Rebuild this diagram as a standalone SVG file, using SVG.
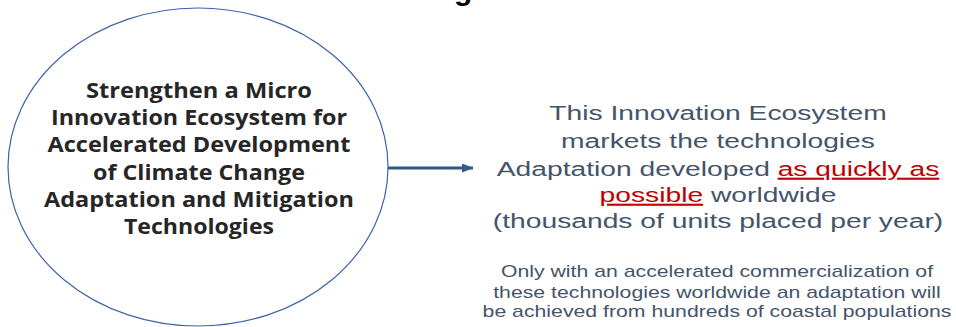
<svg xmlns="http://www.w3.org/2000/svg" width="956" height="327" viewBox="0 0 956 327">
  <style>
    .circ { font-family: "Open Sans", "Liberation Sans", sans-serif; font-weight: bold; font-size: 21px; fill: #262626; text-anchor: middle; }
    .big { font-family: "Liberation Sans", Arial, sans-serif; font-size: 21px; fill: #44546A; text-anchor: middle; }
    .small { font-family: "Liberation Sans", Arial, sans-serif; font-size: 15.8px; fill: #44546A; text-anchor: middle; }
    .red { fill: #C00000; text-decoration: underline; }
  </style>
  <defs>
    <marker id="arrow" markerWidth="12" markerHeight="10" refX="11" refY="4.5" orient="auto" markerUnits="userSpaceOnUse">
      <polygon points="0,0 11.5,4.5 0,9" fill="#2E5A88"/>
    </marker>
  </defs>
  <rect width="956" height="327" fill="#ffffff"/>
  <text x="454" y="0" font-family="Liberation Sans, Arial, sans-serif" font-weight="bold" font-size="30" fill="#000">g</text>

  <g id="connectors">
    <line x1="388" y1="168" x2="473" y2="168" stroke="#2E5A88" stroke-width="3" marker-end="url(#arrow)"/>
  </g>

  <g id="node-circle">
    <ellipse cx="198" cy="167" rx="190" ry="159" fill="none" stroke="#3D64A8" stroke-width="1.2"/>
    <text class="circ" x="199" y="98" textLength="226" lengthAdjust="spacingAndGlyphs">Strengthen a Micro</text>
    <text class="circ" x="199" y="125" textLength="296" lengthAdjust="spacingAndGlyphs">Innovation Ecosystem for</text>
    <text class="circ" x="199" y="152" textLength="303" lengthAdjust="spacingAndGlyphs">Accelerated Development</text>
    <text class="circ" x="199" y="180" textLength="212" lengthAdjust="spacingAndGlyphs">of Climate Change</text>
    <text class="circ" x="199" y="207" textLength="310" lengthAdjust="spacingAndGlyphs">Adaptation and Mitigation</text>
    <text class="circ" x="199" y="234" textLength="150" lengthAdjust="spacingAndGlyphs">Technologies</text>
  </g>

  <g id="node-text" transform="translate(718,0) scale(1.345,1)">
    <text class="big" x="0" y="120">This Innovation Ecosystem</text>
    <text class="big" x="0" y="148">markets the technologies</text>
    <text class="big" x="0" y="176">Adaptation developed <tspan class="red">as quickly as</tspan></text>
    <text class="big" x="0" y="202"><tspan class="red">possible</tspan> worldwide</text>
    <text class="big" x="0" y="228">(thousands of units placed per year)</text>
  </g>

  <g id="node-note" transform="translate(717,0) scale(1.345,1)">
    <text class="small" x="0" y="277">Only with an accelerated commercialization of</text>
    <text class="small" x="0" y="298">these technologies worldwide an adaptation will</text>
    <text class="small" x="0" y="317">be achieved from hundreds of coastal populations</text>
  </g>
</svg>
